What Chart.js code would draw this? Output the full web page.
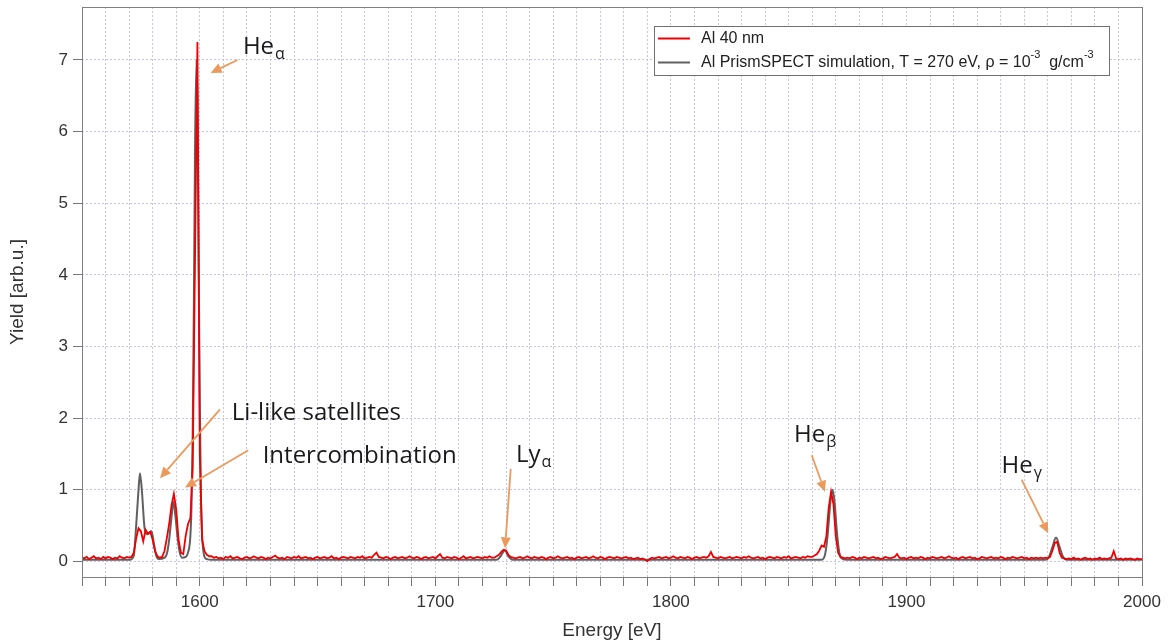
<!DOCTYPE html>
<html>
<head>
<meta charset="utf-8">
<title>Al K-shell spectrum</title>
<style>
  body { margin: 0; padding: 0; background: #fff; }
  .container { width: 1172px; height: 644px; position: relative; }
</style>
<script src="https://cdn.jsdelivr.net/npm/chart.js@4.4.0/dist/chart.umd.min.js"></script>
</head>
<body>
<div class="container"><canvas id="chart"></canvas></div>
<script>
// measured spectrum (Al 40 nm), one value per eV from 1550 eV
const measuredStart = 1550;
const measuredStep = 1;
const measuredYield = [
  0.05,0.04,0.06,0.03,0.05,0.07,0.04,0.05,0.03,0.06,
  0.04,0.06,0.05,0.03,0.05,0.04,0.07,0.05,0.04,0.06,
  0.05,0.06,0.12,0.32,0.46,0.42,0.28,0.44,0.38,0.41,
  0.3,0.14,0.07,0.05,0.06,0.14,0.32,0.52,0.78,0.94,
  0.72,0.3,0.12,0.1,0.35,0.52,0.6,1.3,4.3,7.25,
  1.5,0.3,0.14,0.09,0.07,
  0.07,0.05,0.06,0.04,0.05,0.03,0.06,0.05,0.07,0.04,
  0.05,0.06,0.04,0.03,0.05,0.06,0.04,0.05,0.07,0.05,
  0.04,0.06,0.05,0.03,0.05,0.04,0.06,0.08,0.05,0.04,
  0.05,0.03,0.06,0.05,0.04,0.06,0.05,0.07,0.04,0.05,
  0.06,0.04,0.05,0.03,0.05,0.06,0.04,0.05,0.06,0.04,
  0.05,0.07,0.04,0.05,0.03,0.05,0.06,0.05,0.04,0.06,
  0.05,0.04,0.06,0.05,0.07,0.04,0.05,0.06,0.05,0.09,
  0.12,0.06,0.05,0.04,0.06,0.05,0.03,0.05,0.06,0.04,
  0.05,0.06,0.04,0.05,0.07,0.05,0.04,0.06,0.05,0.03,
  0.05,0.06,0.04,0.05,0.06,0.04,0.07,0.1,0.05,0.04,
  0.06,0.05,0.04,0.06,0.05,0.03,0.05,0.07,0.04,0.05,
  0.06,0.04,0.05,0.06,0.05,0.04,0.06,0.05,0.07,0.05,
  0.05,0.07,0.09,0.13,0.16,0.15,0.09,0.06,0.05,0.04,
  0.05,0.06,0.04,0.05,0.07,0.05,0.04,0.06,0.05,0.04,
  0.06,0.05,0.03,0.05,0.06,0.04,0.05,0.07,0.05,0.04,
  0.05,0.06,0.04,0.05,0.03,0.05,0.06,0.04,0.05,0.06,
  0.04,0.05,0.07,0.05,0.04,0.06,0.05,0.03,0.05,0.06,
  0.05,0.04,0.06,0.05,0.04,0.05,0.06,0.04,0.05,0.03,
  0.04,0.05,0.03,0.04,0.02,0.0,0.03,0.05,0.04,0.05,
  0.06,0.04,0.05,0.06,0.04,0.05,0.07,0.05,0.04,0.06,
  0.05,0.04,0.06,0.05,0.03,0.05,0.06,0.04,0.05,0.06,
  0.05,0.07,0.13,0.06,0.05,0.04,0.06,0.05,0.04,0.05,
  0.06,0.04,0.05,0.06,0.05,0.04,0.06,0.05,0.07,0.05,
  0.04,0.05,0.06,0.04,0.05,0.03,0.05,0.06,0.05,0.04,
  0.06,0.05,0.04,0.06,0.05,0.07,0.04,0.05,0.06,0.05,
  0.04,0.06,0.05,0.07,0.06,0.06,0.08,0.1,0.15,0.22,
  0.2,0.35,0.75,0.97,0.8,0.35,0.12,0.06,0.05,0.04,
  0.05,0.04,0.06,0.05,0.03,0.05,0.04,0.06,0.05,0.04,
  0.05,0.06,0.04,0.05,0.03,0.04,0.06,0.05,0.04,0.05,
  0.06,0.1,0.05,0.04,0.05,0.03,0.05,0.06,0.04,0.05,
  0.04,0.06,0.05,0.03,0.05,0.04,0.06,0.05,0.04,0.05,
  0.06,0.04,0.05,0.07,0.05,0.04,0.05,0.03,0.05,0.06,
  0.04,0.05,0.06,0.04,0.05,0.03,0.04,0.06,0.05,0.04,
  0.05,0.06,0.04,0.05,0.04,0.06,0.05,0.03,0.05,0.04,
  0.06,0.05,0.04,0.05,0.06,0.04,0.05,0.03,0.05,0.04,
  0.05,0.04,0.05,0.04,0.05,0.04,0.06,0.15,0.26,0.27,
  0.12,0.05,0.04,0.03,0.04,0.03,0.05,0.03,0.04,0.02,
  0.04,0.05,0.03,0.04,0.02,0.04,0.03,0.05,0.03,0.04,
  0.03,0.04,0.05,0.14,0.04,0.03,0.04,0.02,0.04,0.03,
  0.04,0.03,0.02,0.04,0.03,0.03
];

// PrismSPECT simulation
const simEnergy = [
  1550, 1560, 1570, 1571, 1572, 1573, 1574, 1574.6, 1575.5, 1576.5,
  1577.5, 1578.5, 1579.5, 1580.5, 1581.5, 1582.5, 1585, 1586, 1587, 1588,
  1588.8, 1589.6, 1590.5, 1591.5, 1592.5, 1594, 1595, 1596, 1596.5, 1597,
  1597.5, 1598, 1598.6, 1599, 1599.5, 1600, 1600.5, 1601, 1601.5, 1602,
  1603, 1605, 1650, 1700, 1726, 1727.5, 1729.5, 1731, 1733, 1780,
  1830, 1864, 1865.5, 1866.5, 1867.5, 1868, 1868.7, 1869.5, 1870.5, 1871.5,
  1872.5, 1875, 1920, 1959, 1960.5, 1962, 1963.5, 1965, 1966.5, 1968, 2000
];
const simYield = [
  0.02, 0.02, 0.02, 0.03, 0.08, 0.5, 1.0, 1.23, 0.95, 0.48,
  0.38, 0.4, 0.42, 0.25, 0.08, 0.03, 0.05, 0.1, 0.3, 0.62,
  0.83, 0.65, 0.35, 0.12, 0.05, 0.06, 0.12, 0.35, 0.8, 1.8,
  3.6, 5.8, 7.0, 6.4, 4.3, 2.2, 0.9, 0.35, 0.15, 0.06,
  0.03, 0.02, 0.02, 0.02, 0.02, 0.06, 0.15, 0.07, 0.02, 0.02,
  0.02, 0.02, 0.1, 0.35, 0.75, 0.9, 1.0, 0.82, 0.4, 0.12,
  0.04, 0.02, 0.02, 0.02, 0.06, 0.2, 0.33, 0.2, 0.06, 0.02, 0.02
];

const xLabelTicks = [1600, 1700, 1800, 1900, 2000];

// labels and arrows, in data coordinates
const notes = [
  { text: 'He', sub: 'α', at: [1618.3, 7.08], from: [1616.0, 7.0], to: [1604.6, 6.82] },
  { text: 'Li-like satellites', sub: '', at: [1613.6, 1.97], from: [1608.6, 2.12], to: [1583.1, 1.16] },
  { text: 'Intercombination', sub: '', at: [1626.7, 1.37], from: [1620.6, 1.55], to: [1593.7, 1.03] },
  { text: 'Ly', sub: 'α', at: [1734.2, 1.39], from: [1732.0, 1.29], to: [1729.6, 0.18] },
  { text: 'He', sub: 'β', at: [1852.3, 1.67], from: [1859.8, 1.48], to: [1865.4, 0.97] },
  { text: 'He', sub: 'γ', at: [1940.4, 1.23], from: [1948.9, 1.14], to: [1960.2, 0.39] }
];

const RED = '#f00000';
const GRAY = '#606060';
const ARROW = '#ec9a5c';
const SANS = '"Liberation Sans", Arial, sans-serif';
const NOTE_FONT = '"Open Sans", "Noto Sans", sans-serif';

Chart.defaults.font.family = SANS;
Chart.defaults.color = '#333';

const measuredPoints = measuredYield.map((v, i) => ({ x: measuredStart + i * measuredStep, y: v }));
const simPoints = simEnergy.map((e, i) => ({ x: e, y: simYield[i] }));

// grey frame round the plot area
const framePlugin = {
  id: 'frame',
  afterDraw(chart) {
    const { ctx, chartArea: a } = chart;
    ctx.save();
    ctx.strokeStyle = '#808080';
    ctx.lineWidth = 1;
    ctx.strokeRect(a.left + 0.5, a.top + 0.5, a.right - a.left, a.bottom - a.top);
    ctx.restore();
  }
};

const notesPlugin = {
  id: 'notes',
  afterDatasetsDraw(chart) {
    const { ctx } = chart;
    const sx = chart.scales.x, sy = chart.scales.y;
    ctx.save();
    notes.forEach(n => {
      const x1 = sx.getPixelForValue(n.from[0]), y1 = sy.getPixelForValue(n.from[1]);
      const x2 = sx.getPixelForValue(n.to[0]), y2 = sy.getPixelForValue(n.to[1]);
      const ang = Math.atan2(y2 - y1, x2 - x1);
      const head = 11, half = 5;
      const bx = x2 - head * Math.cos(ang), by = y2 - head * Math.sin(ang);
      ctx.strokeStyle = ARROW;
      ctx.fillStyle = ARROW;
      ctx.lineWidth = 1.8;
      ctx.beginPath();
      ctx.moveTo(x1, y1);
      ctx.lineTo(bx, by);
      ctx.stroke();
      ctx.beginPath();
      ctx.moveTo(x2, y2);
      ctx.lineTo(bx + half * Math.sin(ang), by - half * Math.cos(ang));
      ctx.lineTo(bx - half * Math.sin(ang), by + half * Math.cos(ang));
      ctx.closePath();
      ctx.fill();

      const tx = sx.getPixelForValue(n.at[0]), ty = sy.getPixelForValue(n.at[1]);
      ctx.fillStyle = '#1a1a1a';
      ctx.textBaseline = 'alphabetic';
      ctx.textAlign = 'left';
      ctx.font = '24px ' + NOTE_FONT;
      ctx.fillText(n.text, tx, ty);
      if (n.sub) {
        const w = ctx.measureText(n.text).width;
        ctx.font = '16px ' + NOTE_FONT;
        ctx.fillText(n.sub, tx + w + 1, ty + 5);
      }
    });
    ctx.restore();
  }
};

// legend box with superscripts
const legendPlugin = {
  id: 'legendBox',
  afterDraw(chart) {
    const { ctx } = chart;
    const left = 654, top = 26, width = 455, height = 49;
    ctx.save();
    ctx.fillStyle = '#fff';
    ctx.fillRect(left, top, width, height);
    ctx.strokeStyle = '#707070';
    ctx.lineWidth = 1;
    ctx.strokeRect(left + 0.5, top + 0.5, width, height);
    const rows = [
      { color: RED, y: 38.5, parts: [['Al 40 nm', false]] },
      { color: GRAY, y: 62.5, parts: [['Al PrismSPECT simulation, T = 270 eV, ρ = 10', false], ['-3', true], ['  g/cm', false], ['-3', true]] }
    ];
    rows.forEach(r => {
      ctx.strokeStyle = r.color;
      ctx.lineWidth = 2;
      ctx.beginPath();
      ctx.moveTo(658, r.y);
      ctx.lineTo(690, r.y);
      ctx.stroke();
      let x = 701;
      ctx.fillStyle = '#222';
      ctx.textBaseline = 'middle';
      ctx.textAlign = 'left';
      r.parts.forEach(([t, sup]) => {
        ctx.font = (sup ? '11px ' : '16px ') + SANS;
        ctx.fillText(t, x, sup ? r.y - 8 : r.y);
        x += ctx.measureText(t).width;
      });
    });
    ctx.restore();
  }
};

new Chart(document.getElementById('chart'), {
  type: 'line',
  data: {
    datasets: [
      {
        label: 'Al 40 nm',
        data: measuredPoints,
        borderColor: RED,
        borderWidth: 1.8,
        pointRadius: 0,
        tension: 0
      },
      {
        label: 'Al PrismSPECT simulation, T = 270 eV, ρ = 10⁻³  g/cm⁻³',
        data: simPoints,
        borderColor: GRAY,
        borderWidth: 2,
        pointRadius: 0,
        cubicInterpolationMode: 'monotone'
      }
    ]
  },
  options: {
    responsive: true,
    maintainAspectRatio: false,
    animation: false,
    layout: { padding: { top: 7, right: 30, left: 0, bottom: 0 } },
    plugins: {
      legend: { display: false },
      tooltip: { enabled: false }
    },
    scales: {
      x: {
        type: 'linear',
        min: 1550,
        max: 2000,
        afterFit: s => { s.height = 67; s.paddingLeft = 0; s.paddingRight = 0; },
        border: { display: false, dash: [2, 2] },
        grid: { color: '#c4c4ee', tickColor: '#777', tickLength: 9, tickBorderDash: [] },
        ticks: {
          stepSize: 10,
          autoSkip: false,
          maxRotation: 0,
          padding: 6,
          font: { size: 17 },
          callback: v => xLabelTicks.includes(v) ? String(v) : ''
        },
        title: { display: true, text: 'Energy [eV]', font: { size: 19 }, color: '#333', padding: { top: 4, bottom: 2 } }
      },
      y: {
        min: -0.22,
        max: 7.74,
        afterFit: s => { s.width = 82; s.paddingTop = 0; s.paddingBottom = 0; },
        border: { display: false, dash: [2, 2] },
        grid: { color: '#c4c4ee', tickColor: '#777', tickLength: 9, tickBorderDash: [] },
        ticks: { stepSize: 1, includeBounds: false, padding: 5, font: { size: 17 } },
        title: { display: true, text: 'Yield [arb.u.]', font: { size: 19 }, color: '#333', padding: { top: 6, bottom: 0 } }
      }
    }
  },
  plugins: [framePlugin, notesPlugin, legendPlugin]
});
</script>
</body>
</html>
